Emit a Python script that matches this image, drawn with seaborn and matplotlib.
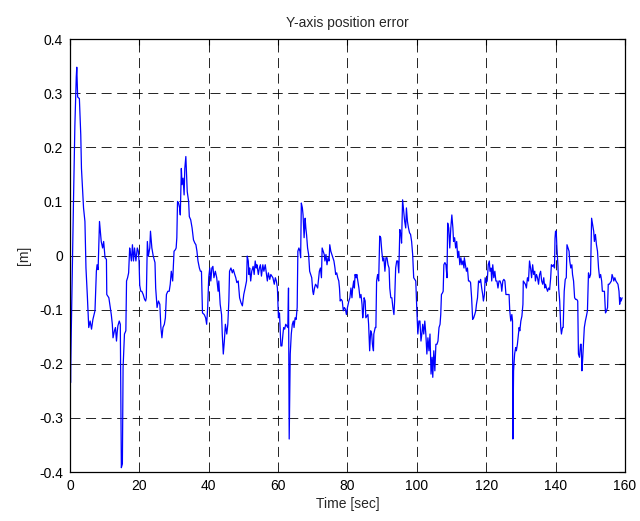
import matplotlib
matplotlib.use("Agg")
import matplotlib.pyplot as plt
import seaborn as sns
import pandas as pd

# Y-axis position error of the vehicle over the run
time_s = [
    0.0, 0.15, 0.35, 0.6, 1.0, 1.4, 1.8, 1.95, 2.2, 2.7, 3.1, 3.3, 3.9, 4.3, 4.6, 5.0, 5.4, 5.8, 6.2, 6.6,
    7.2, 7.6, 7.8, 8.1, 8.5, 9.0, 9.4, 9.7, 10.1, 10.5, 10.6, 11.2, 11.6, 11.9, 12.2, 12.4, 12.8, 13.1, 13.4, 13.6,
    13.8, 14.2, 14.5, 14.8, 15.1, 15.3, 15.7, 16.1, 16.3, 16.6, 16.9, 17.2, 17.4, 17.7, 18.0, 18.3, 18.6, 19.0, 19.4, 19.7,
    19.9, 20.1, 20.4, 20.7, 21.1, 21.5, 21.8, 22.0, 22.3, 22.6, 23.0, 23.2, 23.6, 24.0, 24.5, 24.7, 25.1, 25.5, 25.9, 26.2,
    26.5, 26.8, 27.2, 27.5, 27.8, 28.2, 28.6, 28.9, 29.2, 29.6, 30.0, 30.4, 30.6, 30.8, 31.0, 31.3, 31.6, 31.8, 32.1, 32.3,
    32.6, 32.9, 33.1, 33.4, 33.6, 33.8, 34.2, 34.4, 34.8, 35.2, 35.6, 36.0, 36.3, 36.6, 36.9, 37.3, 37.6, 37.9, 38.2, 38.7,
    39.1, 39.4, 39.7, 40.0, 40.3, 40.6, 40.9, 41.2, 41.5, 41.9, 42.3, 42.7, 42.9, 43.3, 43.7, 43.9, 44.2, 44.5, 44.8, 45.2,
    45.5, 45.8, 46.0, 46.4, 46.8, 47.1, 47.5, 47.8, 48.1, 48.5, 48.9, 49.3, 49.7, 50.1, 50.5, 50.9, 51.1, 51.4, 51.6, 51.8,
    52.1, 52.4, 52.8, 53.1, 53.4, 53.7, 53.9, 54.3, 54.6, 54.9, 55.2, 55.6, 55.9, 56.3, 56.7, 56.9, 57.2, 57.6, 57.9, 58.2,
    58.5, 58.9, 59.2, 59.5, 59.8, 60.1, 60.4, 60.8, 61.1, 61.4, 61.6, 61.9, 62.2, 62.5, 62.8, 63.0, 63.2, 63.5, 63.8, 64.1,
    64.4, 64.6, 64.9, 65.2, 65.5, 65.7, 66.0, 66.3, 66.5, 66.7, 67.0, 67.2, 67.5, 67.8, 68.0, 68.2, 68.5, 68.8, 69.1, 69.4,
    69.7, 70.0, 70.2, 70.5, 70.8, 71.1, 71.4, 71.6, 71.9, 72.2, 72.5, 72.7, 73.0, 73.3, 73.5, 73.8, 74.1, 74.4, 74.7, 74.9,
    75.2, 75.5, 75.8, 76.1, 76.4, 76.6, 76.9, 77.2, 77.5, 77.7, 77.9, 78.2, 78.5, 78.8, 79.1, 79.4, 79.7, 80.0, 80.4, 80.7,
    81.0, 81.3, 81.5, 81.8, 82.0, 82.2, 82.5, 82.7, 83.0, 83.3, 83.6, 83.9, 84.2, 84.4, 84.6, 84.8, 85.1, 85.3, 85.6, 85.9,
    86.1, 86.4, 86.7, 87.0, 87.2, 87.5, 87.6, 88.0, 88.2, 88.4, 88.7, 89.0, 89.3, 89.6, 89.9, 90.2, 90.5, 90.8, 91.1, 91.4,
    91.7, 92.0, 92.2, 92.5, 92.8, 93.1, 93.4, 93.6, 93.9, 94.2, 94.5, 94.8, 95.1, 95.4, 95.6, 95.9, 96.2, 96.5, 96.8, 97.0,
    97.3, 97.6, 97.9, 98.2, 98.5, 98.8, 99.1, 99.4, 99.7, 100.0, 100.3, 100.6, 100.9, 101.2, 101.5, 101.7, 102.0, 102.3, 102.6, 102.9,
    103.2, 103.5, 103.8, 104.1, 104.4, 104.6, 104.9, 105.2, 105.5, 105.8, 106.1, 106.4, 106.7, 106.9, 107.1, 107.4, 107.6, 107.8, 108.1, 108.4,
    108.7, 108.9, 109.2, 109.5, 109.8, 110.1, 110.4, 110.6, 110.9, 111.2, 111.5, 111.8, 112.1, 112.4, 112.7, 113.0, 113.3, 113.6, 113.7, 114.0,
    114.3, 114.6, 114.9, 115.2, 115.5, 115.8, 116.1, 116.4, 116.7, 117.0, 117.2, 117.5, 117.8, 118.1, 118.4, 118.7, 119.0, 119.2, 119.5, 119.7,
    120.0, 120.3, 120.6, 120.9, 121.1, 121.4, 121.6, 121.9, 122.2, 122.5, 122.8, 123.1, 123.4, 123.7, 124.0, 124.3, 124.5, 124.8, 125.1, 125.4,
    125.7, 126.0, 126.3, 126.6, 126.8, 127.1, 127.4, 127.6, 127.7, 127.9, 128.2, 128.5, 128.7, 129.0, 129.3, 129.5, 129.7, 130.0, 130.3, 130.6,
    130.7, 131.0, 131.3, 131.6, 131.9, 132.2, 132.5, 132.8, 133.1, 133.4, 133.7, 134.0, 134.2, 134.5, 134.8, 135.1, 135.4, 135.7, 136.0, 136.3,
    136.6, 136.9, 137.1, 137.4, 137.7, 138.0, 138.3, 138.6, 138.8, 139.1, 139.4, 139.7, 139.85, 140.0, 140.2, 140.4, 140.7, 140.9, 141.2, 141.5,
    141.7, 142.0, 142.2, 142.5, 142.8, 143.1, 143.3, 143.6, 143.9, 144.1, 144.4, 144.7, 144.9, 145.2, 145.5, 145.8, 146.1, 146.4, 146.6, 146.9,
    147.2, 147.4, 147.6, 147.8, 148.0, 148.3, 148.6, 148.9, 149.2, 149.5, 149.8, 150.1, 150.4, 150.7, 151.0, 151.2, 151.5, 151.8, 152.1, 152.4,
    152.7, 153.0, 153.3, 153.5, 153.8, 154.1, 154.4, 154.7, 155.0, 155.2, 155.5, 155.8, 156.1, 156.3, 156.6, 156.8, 157.1, 157.4, 157.7, 158.0,
    158.3, 158.5, 158.7, 158.9, 159.2,
]
error_m = [
    -0.142, -0.235, -0.145, -0.05, 0.10, 0.24, 0.33, 0.348, 0.293, 0.29, 0.223, 0.161, 0.088, 0.063, -0.023, -0.075, -0.133, -0.121, -0.136, -0.118,
    -0.102, -0.029, -0.017, -0.026, 0.063, 0.026, 0.014, 0.026, -0.004, -0.007, -0.072, -0.078, -0.096, -0.109, -0.127, -0.152, -0.139, -0.133, -0.158, -0.142,
    -0.130, -0.121, -0.127, -0.392, -0.385, -0.207, -0.145, -0.139, -0.047, -0.041, -0.032, 0.014, 0.005, -0.010, 0.020, -0.010, 0.014, -0.010, 0.014, 0.008,
    -0.010, -0.055, -0.066, -0.066, -0.072, -0.081, -0.084, -0.078, 0.026, -0.001, 0.014, 0.045, 0.014, -0.001, -0.013, -0.060, -0.096, -0.084, -0.090, -0.133,
    -0.152, -0.133, -0.127, -0.115, -0.072, -0.066, -0.066, -0.053, -0.029, -0.047, 0.008, 0.011, 0.014, 0.033, 0.100, 0.097, 0.088, 0.075, 0.161, 0.131,
    0.143, 0.112, 0.161, 0.183, 0.149, 0.118, 0.100, 0.072, 0.066, 0.051, 0.029, 0.023, 0.020, 0.008, -0.010, -0.023, -0.029, -0.029, -0.106, -0.109,
    -0.115, -0.127, -0.096, -0.040, -0.023, -0.047, -0.023, -0.020, -0.041, -0.029, -0.041, -0.066, -0.047, -0.090, -0.109, -0.145, -0.182, -0.158, -0.127, -0.145,
    -0.127, -0.084, -0.029, -0.023, -0.032, -0.026, -0.035, -0.041, -0.050, -0.047, -0.078, -0.087, -0.093, -0.072, -0.060, -0.047, -0.001, -0.010, -0.035, -0.023,
    -0.047, -0.029, -0.020, -0.035, -0.010, -0.023, -0.017, -0.035, -0.023, -0.017, -0.038, -0.017, -0.029, -0.017, -0.038, -0.047, -0.032, -0.044, -0.035, -0.038,
    -0.041, -0.053, -0.041, -0.047, -0.060, -0.115, -0.106, -0.167, -0.167, -0.145, -0.133, -0.136, -0.127, -0.130, -0.133, -0.060, -0.339, -0.182, -0.145, -0.127,
    -0.121, -0.133, -0.115, -0.118, -0.096, 0.008, 0.014, 0.008, -0.004, 0.097, 0.088, 0.075, 0.033, 0.069, 0.051, 0.039, 0.014, 0.002, -0.029, -0.035,
    -0.041, -0.066, -0.072, -0.060, -0.053, -0.056, -0.060, -0.047, -0.029, -0.023, -0.041, 0.014, 0.008, 0.002, -0.010, 0.002, -0.017, -0.004, -0.010, 0.020,
    0.008, 0.002, -0.004, -0.010, -0.023, -0.035, -0.032, -0.041, -0.047, -0.060, -0.084, -0.081, -0.084, -0.102, -0.096, -0.099, -0.109, -0.096, -0.084, -0.078,
    -0.060, -0.078, -0.060, -0.047, -0.060, -0.035, -0.041, -0.035, -0.047, -0.060, -0.078, -0.072, -0.090, -0.115, -0.102, -0.078, -0.084, -0.115, -0.112, -0.109,
    -0.127, -0.176, -0.139, -0.145, -0.164, -0.176, -0.145, -0.133, -0.133, -0.047, -0.035, -0.047, 0.036, 0.033, 0.008, -0.010, -0.004, -0.029, -0.004, -0.004,
    -0.017, -0.023, -0.060, -0.078, -0.078, -0.096, -0.109, -0.084, -0.023, -0.010, -0.010, -0.032, 0.048, 0.039, 0.023, 0.103, 0.082, 0.063, 0.051, 0.088,
    0.063, 0.051, 0.042, 0.039, 0.026, 0.002, -0.041, -0.044, -0.047, -0.100, -0.145, -0.121, -0.121, -0.158, -0.142, -0.127, -0.145, -0.121, -0.145, -0.182,
    -0.152, -0.176, -0.145, -0.219, -0.188, -0.225, -0.176, -0.213, -0.164, -0.164, -0.158, -0.133, -0.127, -0.109, -0.072, -0.069, -0.066, -0.017, -0.013, -0.017,
    -0.041, 0.060, 0.051, 0.014, 0.051, 0.075, 0.051, 0.026, 0.033, 0.014, 0.026, -0.004, 0.008, -0.017, -0.004, -0.017, -0.010, -0.023, -0.004, -0.017,
    -0.029, -0.023, -0.047, -0.047, -0.050, -0.078, -0.118, -0.115, -0.109, -0.102, -0.090, -0.078, -0.047, -0.050, -0.044, -0.060, -0.072, -0.084, -0.072, -0.041,
    -0.050, -0.047, -0.017, -0.010, -0.029, -0.023, -0.047, -0.017, -0.041, -0.029, -0.047, -0.047, -0.060, -0.047, -0.047, -0.053, -0.066, -0.047, -0.044, -0.047,
    -0.072, -0.072, -0.072, -0.072, -0.102, -0.121, -0.109, -0.121, -0.339, -0.213, -0.182, -0.170, -0.176, -0.164, -0.145, -0.133, -0.139, -0.121, -0.112, -0.090,
    -0.047, -0.050, -0.053, -0.060, -0.041, -0.047, -0.010, -0.023, -0.041, -0.017, -0.035, -0.029, -0.047, -0.035, -0.041, -0.053, -0.035, -0.029, -0.047, -0.053,
    -0.041, -0.060, -0.053, -0.060, -0.066, -0.060, -0.063, -0.041, -0.017, -0.020, -0.017, -0.023, 0.032, 0.045, 0.045, 0.014, -0.020, -0.060, -0.084, -0.133,
    -0.145, -0.133, -0.133, -0.066, -0.044, -0.041, 0.020, 0.014, 0.008, -0.010, -0.023, -0.017, -0.035, -0.047, -0.078, -0.081, -0.081, -0.084, -0.182, -0.188,
    -0.164, -0.164, -0.213, -0.194, -0.170, -0.133, -0.121, -0.112, -0.102, -0.032, -0.041, -0.035, 0.069, 0.057, 0.045, 0.026, 0.039, 0.020, 0.008, -0.023,
    -0.041, -0.035, -0.047, -0.066, -0.066, -0.066, -0.106, -0.102, -0.096, -0.053, -0.053, -0.050, -0.047, -0.035, -0.041, -0.047, -0.041, -0.047, -0.050, -0.053,
    -0.066, -0.090, -0.078, -0.084, -0.078,
]

x_ticks = [0, 20, 40, 60, 80, 100, 120, 140, 160]
y_ticks = [-0.4, -0.3, -0.2, -0.1, 0, 0.1, 0.2, 0.3, 0.4]
y_tick_labels = ["-0.4", "-0.3", "-0.2", "-0.1", "0", "0.1", "0.2", "0.3", "0.4"]

sns.set_style("white")
plt.rcParams["font.family"] = ["Liberation Sans", "DejaVu Sans"]
plt.rcParams["axes.unicode_minus"] = False
plt.rcParams["lines.scale_dashes"] = False

df = pd.DataFrame({"t": time_s, "err": error_m})

fig = plt.figure(figsize=(6.4, 5.21), dpi=100)
ax = fig.add_axes([0.1094, 0.094, 0.867, 0.831])

sns.lineplot(data=df, x="t", y="err", ax=ax, color="#0000ff", linewidth=0.9,
             estimator=None, sort=False)

ax.set_xlim(0, 160)
ax.set_ylim(-0.4, 0.4)
ax.set_xticks(x_ticks)
ax.set_xticklabels([str(v) for v in x_ticks])
ax.set_yticks(y_ticks)
ax.set_yticklabels(y_tick_labels)

ax.grid(True, color="black", linestyle=(0, (7.2, 4.0)), linewidth=0.6)
ax.set_axisbelow(True)

for side in ["top", "right", "bottom", "left"]:
    ax.spines[side].set_visible(True)
    ax.spines[side].set_color("black")
    ax.spines[side].set_linewidth(0.9)

ax.tick_params(direction="in", length=4, width=0.8, top=True, right=True,
               labelsize=10, colors="black", pad=5)

ax.set_title("Y-axis position error", fontsize=10, pad=9)
ax.set_xlabel("Time [sec]", fontsize=10, labelpad=3)
ax.set_ylabel("[m]", fontsize=10, labelpad=6)

fig.savefig("out.png", dpi=100)
